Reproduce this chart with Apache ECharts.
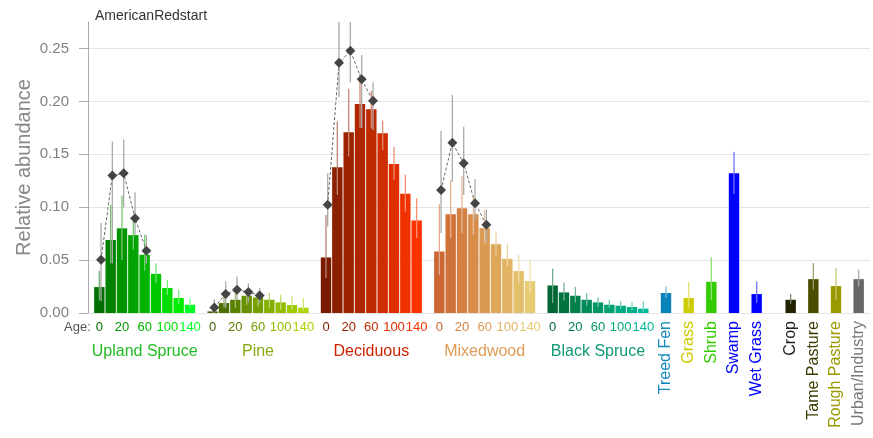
<!DOCTYPE html>
<html>
<head>
<meta charset="utf-8">
<script src="https://cdn.jsdelivr.net/npm/echarts@6/dist/echarts.min.js"></script>
<style>
html, body { margin: 0; padding: 0; background: #fff; }
#chart { width: 873px; height: 438px; }
</style>
</head>
<body>
<div id="chart"></div>
<script>
// age class tick labels (9 classes per forest type)
var ageLabels = ["0", "", "20", "", "60", "", "100", "", "140"];
var forestNames = ["Upland Spruce", "Pine", "Deciduous", "Mixedwood", "Black Spruce"];
var openNames = ["Treed Fen", "Grass", "Shrub", "Swamp", "Wet Grass", "Crop", "Tame Pasture", "Rough Pasture", "Urban/Industry"];

// bar means + error limits
var usMean = [0.0245, 0.069, 0.080, 0.0736, 0.055, 0.037, 0.0236, 0.0142, 0.0078];
var usLo   = [0.012, 0.047, 0.050, 0.060, 0.040, 0.028, 0.017, 0.009, 0.005];
var usHi   = [0.040, 0.102, 0.111, 0.088, 0.074, 0.047, 0.031, 0.022, 0.014];

var pineMean = [0.0015, 0.0094, 0.0125, 0.0163, 0.0147, 0.0125, 0.010, 0.0075, 0.005];
var pineLo   = [0.0005, 0.005, 0.0047, 0.0078, 0.0063, 0.0047, 0.0031, 0.0031, 0.0015];
var pineHi   = [0.003, 0.0189, 0.0204, 0.022, 0.0204, 0.0189, 0.0173, 0.0157, 0.0142];

var decMean = [0.0525, 0.1377, 0.1708, 0.1975, 0.1925, 0.1698, 0.1408, 0.1128, 0.0874];
var decLo   = [0.033, 0.1116, 0.148, 0.175, 0.1745, 0.154, 0.126, 0.096, 0.0708];
var decHi   = [0.0927, 0.181, 0.212, 0.226, 0.21, 0.182, 0.157, 0.131, 0.1085];

var mixMean = [0.0581, 0.0934, 0.099, 0.0934, 0.0802, 0.065, 0.0512, 0.0396, 0.0302];
var mixLo   = [0.036, 0.0708, 0.0755, 0.0739, 0.066, 0.055, 0.044, 0.0283, 0.0189];
var mixHi   = [0.103, 0.1258, 0.129, 0.110, 0.0975, 0.077, 0.0654, 0.055, 0.0496];

var bsMean = [0.026, 0.0195, 0.0163, 0.0125, 0.010, 0.0078, 0.0069, 0.0057, 0.0041];
var bsLo   = [0.0094, 0.0119, 0.010, 0.0069, 0.0057, 0.0047, 0.0038, 0.0025, 0.0012];
var bsHi   = [0.0418, 0.0289, 0.0245, 0.0189, 0.0147, 0.0125, 0.011, 0.0104, 0.011];

var openMean = [0.0189, 0.0142, 0.0295, 0.132, 0.0179, 0.0125, 0.032, 0.0255, 0.032];
var openLo   = [0.0142, 0.0047, 0.0125, 0.1125, 0.0094, 0.0088, 0.022, 0.0125, 0.025];
var openHi   = [0.025, 0.0292, 0.0528, 0.1525, 0.0298, 0.0179, 0.047, 0.0425, 0.0408];

// diamond points (first 5 age classes)
var usPt = [0.0503, 0.130, 0.132, 0.0896, 0.0588];
var usPtLo = [0.011, 0.047, 0.100, 0.074, 0.047];
var usPtHi = [0.085, 0.162, 0.164, 0.114, 0.074];
var pinePt = [0.0053, 0.018, 0.022, 0.0198, 0.0166];
var pinePtLo = [0.0, 0.005, 0.0125, 0.010, 0.0094];
var pinePtHi = [0.013, 0.030, 0.0345, 0.028, 0.0236];
var decPt = [0.1022, 0.2365, 0.2478, 0.2208, 0.2006];
var decPtLo = [0.0817, 0.204, 0.218, 0.1745, 0.173];
var decPtHi = [0.132, 0.275, 0.290, 0.2437, 0.218];
var mixPt = [0.1163, 0.161, 0.1415, 0.1038, 0.0833];
var mixPtLo = [0.0755, 0.124, 0.1116, 0.088, 0.0666];
var mixPtHi = [0.172, 0.206, 0.176, 0.1264, 0.0975];

// colours
var usColors = ["#006e00", "#008200", "#009400", "#00a300", "#00b400", "#00c800", "#00dc00", "#00ee00", "#00ff22"];
var pineColors = ["#3f5f00", "#4c7000", "#5a8000", "#689000", "#76a000", "#84ae00", "#92bc00", "#9ec800", "#aad400"];
var decColors = ["#7a1b00", "#8b1f00", "#9c2300", "#ad2600", "#be2900", "#cf2c00", "#df2f00", "#ef3100", "#ff3300"];
var mixColors = ["#cc6633", "#d0733a", "#d48042", "#d78d4a", "#db9a52", "#dea75a", "#e1b362", "#e4bf69", "#e6cb70"];
var bsColors = ["#006633", "#00733f", "#007f4b", "#008b58", "#009665", "#00a072", "#00a97f", "#00b18b", "#00b898"];
var openColors = ["#0a84b8", "#cccc00", "#33cc00", "#0000ff", "#0000ff", "#222200", "#4c4c00", "#999900", "#666666"];
var groupLabelColors = ["#22bb22", "#88aa11", "#cc2200", "#e09a55", "#119977"];
var openLabelColors = ["#1188bb", "#cccc00", "#33cc00", "#0000ff", "#0000ff", "#222222", "#3a3a00", "#999900", "#777777"];

var openSlots = [50, 52, 54, 56, 58, 61, 63, 65, 67];
var ptShift = 0.15;

function tint(hex, t) {
  var n = parseInt(hex.slice(1), 16);
  var r = n >> 16, g = (n >> 8) & 255, b = n & 255;
  r = Math.round(r + (255 - r) * t);
  g = Math.round(g + (255 - g) * t);
  b = Math.round(b + (255 - b) * t);
  return "rgb(" + r + "," + g + "," + b + ")";
}

var groups = [
  { mean: usMean, lo: usLo, hi: usHi, colors: usColors, pt: usPt, ptLo: usPtLo, ptHi: usPtHi },
  { mean: pineMean, lo: pineLo, hi: pineHi, colors: pineColors, pt: pinePt, ptLo: pinePtLo, ptHi: pinePtHi },
  { mean: decMean, lo: decLo, hi: decHi, colors: decColors, pt: decPt, ptLo: decPtLo, ptHi: decPtHi },
  { mean: mixMean, lo: mixLo, hi: mixHi, colors: mixColors, pt: mixPt, ptLo: mixPtLo, ptHi: mixPtHi },
  { mean: bsMean, lo: bsLo, hi: bsHi, colors: bsColors }
];

var barData = [], barErr = [], errColor = {}, slotColor = {};
var ageText = {}, groupText = {}, openText = {}, openColor = {}, groupColor = {};
var ptErr = [], lineSeries = [];

groups.forEach(function (g, gi) {
  g.mean.forEach(function (v, i) {
    var x = gi * 10 + i;
    barData.push({ value: [x, v], itemStyle: { color: g.colors[i] } });
    barErr.push([x, g.lo[i], g.hi[i]]);
    errColor[x] = tint(g.colors[i], 0.45);
    slotColor[x] = g.colors[i];
    ageText[x] = ageLabels[i];
  });
  groupText[gi * 10 + 4] = forestNames[gi];
  groupColor[gi * 10 + 4] = groupLabelColors[gi];
  if (g.pt) {
    var pts = [];
    g.pt.forEach(function (v, i) {
      var x = gi * 10 + i + ptShift;
      pts.push([x, v]);
      ptErr.push([x, g.ptLo[i], g.ptHi[i]]);
    });
    lineSeries.push({
      type: "line",
      data: pts,
      z: 5,
      symbol: "diamond",
      symbolSize: 10,
      itemStyle: { color: "#444444" },
      lineStyle: { color: "#666666", width: 1, type: [3, 2] },
      animation: false
    });
  }
});

openMean.forEach(function (v, i) {
  var x = openSlots[i];
  barData.push({ value: [x, v], itemStyle: { color: openColors[i] } });
  barErr.push([x, openLo[i], openHi[i]]);
  errColor[x] = tint(openColors[i], 0.45);
  openText[x] = openNames[i];
  openColor[x] = openLabelColors[i];
});

function makeErr(colorFn) {
  return function (params, api) {
    var x = api.value(0);
    var p1 = api.coord([x, api.value(1)]);
    var p2 = api.coord([x, api.value(2)]);
    return {
      type: "line",
      shape: { x1: p1[0], y1: p1[1], x2: p2[0], y2: p2[1] },
      style: { stroke: colorFn(x), lineWidth: 1.3 }
    };
  };
}

function xAxisBase(extra) {
  var a = {
    type: "value",
    min: -1,
    max: 68,
    interval: 1,
    position: "bottom",
    axisLine: { show: false },
    axisTick: { show: false },
    splitLine: { show: false }
  };
  for (var k in extra) a[k] = extra[k];
  return a;
}

var myChart = echarts.init(document.getElementById("chart"));
myChart.setOption({
  animation: false,
  textStyle: { fontFamily: "Liberation Sans, Arial, sans-serif" },
  title: {
    text: "AmericanRedstart",
    left: 90,
    top: 4,
    textStyle: { fontSize: 14, fontWeight: "normal", color: "#333333" }
  },
  grid: { left: 88, right: 0, top: 22, bottom: 125 },
  graphic: [{
    type: "text",
    left: 64,
    top: 321,
    style: { text: "Age:", fontSize: 13, fill: "#555555", font: "13px Liberation Sans" }
  }],
  xAxis: [
    xAxisBase({
      axisLabel: {
        margin: 8,
        fontSize: 13,
        formatter: function (v) { return ageText[v] || ""; },
        color: function (v) { return slotColor[+v] || "#000"; }
      }
    }),
    xAxisBase({
      offset: 23,
      axisLabel: {
        margin: 8,
        fontSize: 16,
        formatter: function (v) { return groupText[v] || ""; },
        color: function (v) { return groupColor[+v] || "#000"; }
      }
    }),
    xAxisBase({
      axisLabel: {
        margin: 8,
        fontSize: 16,
        rotate: 90,
        formatter: function (v) { return openText[v] || ""; },
        color: function (v) { return openColor[+v] || "#000"; }
      }
    })
  ],
  yAxis: {
    type: "value",
    min: 0,
    max: 0.275,
    interval: 0.05,
    name: "Relative abundance",
    nameLocation: "middle",
    nameGap: 54,
    nameMoveOverlap: false,
    nameTextStyle: { fontSize: 20, color: "#888888" },
    axisLine: { show: true, onZero: false, lineStyle: { color: "#aaaaaa" } },
    axisTick: { show: true, length: 9, lineStyle: { color: "#aaaaaa" } },
    axisLabel: {
      fontSize: 15,
      color: "#808080",
      margin: 19,
      showMaxLabel: false,
      formatter: function (v) { return v.toFixed(2); }
    },
    splitLine: { show: true, showMaxLine: false, lineStyle: { color: "#e5e5e5", width: 1 } }
  },
  series: [
    {
      type: "bar",
      data: barData,
      barWidth: 10.4,
      z: 2,
      animation: false
    },
    {
      type: "custom",
      data: barErr,
      z: 3,
      encode: { x: 0, y: [1, 2] },
      renderItem: makeErr(function (x) { return errColor[x]; }),
      animation: false
    },
    {
      type: "custom",
      data: ptErr,
      z: 4,
      clip: true,
      encode: { x: 0, y: [1, 2] },
      renderItem: makeErr(function () { return "#aaaaaa"; }),
      animation: false
    }
  ].concat(lineSeries)
});
</script>
</body>
</html>
